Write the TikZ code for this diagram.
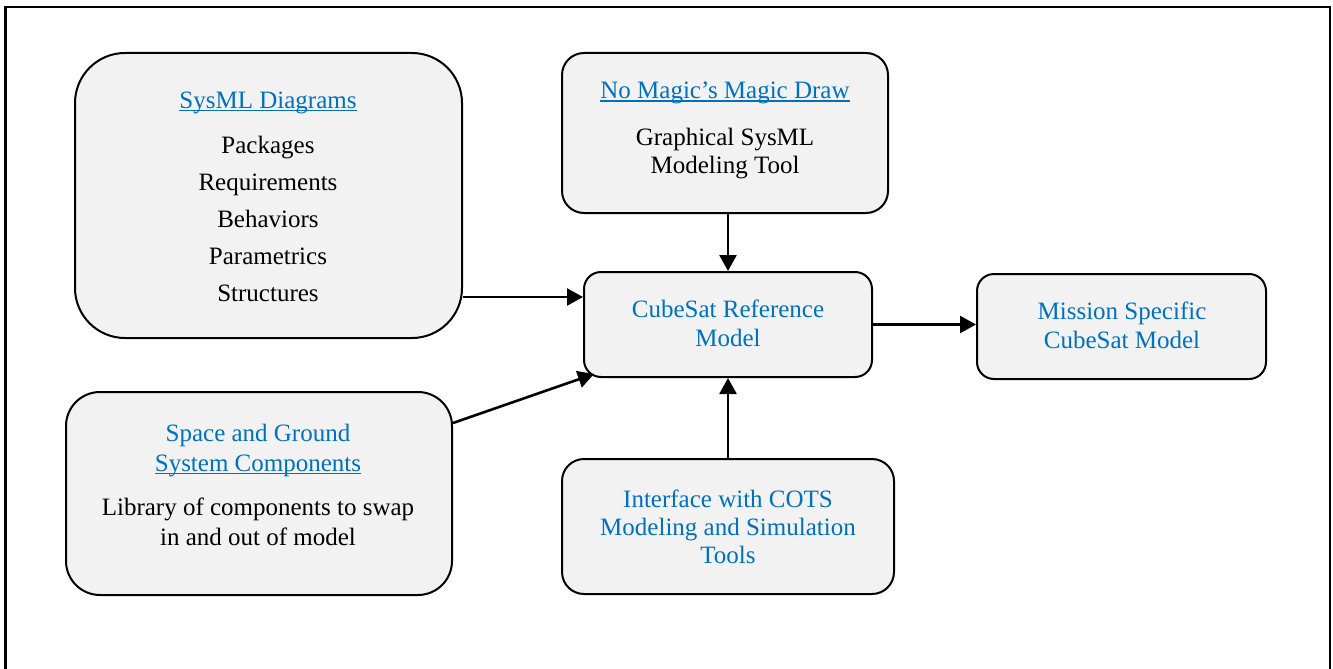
\documentclass[tikz,border=0pt]{standalone}
\usepackage{fontspec}
\setmainfont{Liberation Serif}
\usetikzlibrary{arrows.meta}
\definecolor{tblue}{HTML}{0070C0}
\definecolor{boxgray}{HTML}{F2F2F2}
\newcommand\ulbar[1]{\setbox0\hbox{#1}\rlap{\rule[-3pt]{\wd0}{1.3pt}}\box0}
\begin{document}
\begin{tikzpicture}[x=1pt,y=-1pt,
  box/.style={draw=black, line width=2pt, fill=boxgray, inner sep=0pt},
  txt/.style={align=center, font=\fontsize{25}{29}\selectfont, inner sep=0pt},
  link/.style={line width=2.6pt, -{Triangle[length=16pt,width=17pt]}},
]
\useasboundingbox (0,0) rectangle (1333,669);
\draw[line width=2.6pt] (5.5,669) -- (5.5,7) -- (1330,7) -- (1330,669);

% boxes
\node[box, minimum width=387pt, minimum height=285pt, rounded corners=50pt] (sysml) at (268.5,195.5) {};
\node[box, minimum width=326pt, minimum height=160pt, rounded corners=22pt] (magic) at (725,133) {};
\node[box, minimum width=288pt, minimum height=105pt, rounded corners=17pt] (cube) at (728,324.5) {};
\node[box, minimum width=289pt, minimum height=105pt, rounded corners=17pt] (mission) at (1121.5,326.5) {};
\node[box, minimum width=386pt, minimum height=203pt, rounded corners=34pt] (space) at (259,493.5) {};
\node[box, minimum width=332pt, minimum height=135pt, rounded corners=22pt] (cots) at (728,526.5) {};

% texts
\node[txt, font=\fontsize{25}{37}\selectfont] (tsysml) at (268,196.5)
  {{\color{tblue}\ulbar{SysML Diagrams}}\\[8pt]
   Packages\\ Requirements\\ Behaviors\\ Parametrics\\ Structures};
\node[txt, font=\fontsize{25}{28}\selectfont] (tmagic) at (725,130.5)
  {{\color{tblue}\ulbar{No Magic’s Magic Draw}}\\[19pt]
   Graphical SysML\\ Modeling Tool};
\node[txt, text=tblue] (tcube) at (728,323.5) {CubeSat Reference\\ Model};
\node[txt, text=tblue] (tmission) at (1122,325.5) {Mission Specific\\ CubeSat Model};
\node[txt, font=\fontsize{25}{29.5}\selectfont] (tspace) at (258,485)
  {{\color{tblue}Space and Ground}\\ {\color{tblue}\ulbar{System Components}}\\[15pt]
   Library of components to swap\\ in and out of model};
\node[txt, font=\fontsize{25}{28}\selectfont, text=tblue] (tcots) at (728,527)
  {Interface with COTS\\ Modeling and Simulation\\ Tools};

% connectors
\coordinate (sa) at ([yshift=-101.5pt]sysml.east);
\draw[link] (sa) -- (sa -| cube.west);
\draw[link] (magic.south -| cube.north) -- (cube.north);
\draw[link] (cots.north) -- (cube.south);
\draw[link] (cube.east) -- (cube.east -| mission.west);
\coordinate (sb) at ([yshift=70.5pt]space.east);
\draw[link] (sb) -- ([shift={(11pt,4pt)}]cube.south west);
\end{tikzpicture}
\end{document}
